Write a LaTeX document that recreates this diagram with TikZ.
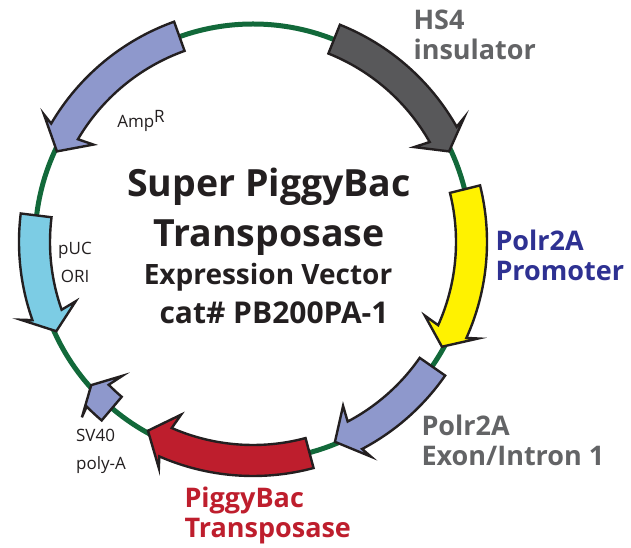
\documentclass[tikz,border=0pt]{standalone}
\usepackage{fontspec}
\setmainfont{Open Sans}
\definecolor{ringgreen}{HTML}{12693A}
\definecolor{outline}{HTML}{231F20}
\definecolor{insulatorgray}{HTML}{58585A}
\definecolor{promoteryellow}{HTML}{FFF200}
\definecolor{periwinkle}{HTML}{8E98CC}
\definecolor{orisky}{HTML}{7CCCE4}
\definecolor{transred}{HTML}{BE1E2D}
\definecolor{labelgray}{HTML}{636466}
\definecolor{labelblue}{HTML}{2E3192}
\tikzset{
    every node/.style={align=center,},
    feature/.style={draw=outline,line width=2.4pt,miter limit=12,},
    titleline/.style={anchor=base,text=outline,font=\fontsize{37.5}{40}\selectfont\bfseries,},
    subtitleline/.style={anchor=base,text=outline,font=\fontsize{28}{30}\selectfont\bfseries,},
    biglabel/.style={align=left,anchor=west,font=\fontsize{27}{30}\selectfont\bfseries,},
    smalllabel/.style={text=outline,font=\fontsize{17}{28}\selectfont,},
}
% colour, tail angle, barb angle, tip angle
\newcommand{\featurearrow}[4]{
    \pgfmathsetmacro{\neckangle}{#3+sign(#4-#3)}
    \draw[feature,fill=#1] (#2:234) arc[start angle=#2,end angle=\neckangle,radius=234]
        -- (#3:245) -- (#4:216) -- (#3:187) -- (\neckangle:203)
        arc[start angle=\neckangle,end angle=#2,radius=203] -- cycle;
}

\begin{document}
\begin{tikzpicture}[x=1pt,y=1pt]
    \useasboundingbox (0,0) rectangle (631,548);
    \begin{scope}[shift={(253,306)}]
        \draw[ringgreen,line width=5pt] (0,0) circle[radius=218];

        \featurearrow{insulatorgray}{68.2}{30.5}{24.8}
        \featurearrow{promoteryellow}{14}{-23.2}{-29}
        \featurearrow{periwinkle}{-34.8}{-61.2}{-67.7}
        \featurearrow{transred}{-75}{-112.6}{-119.1}
        \featurearrow{periwinkle}{-130.3}{-134.3}{-138.5}
        \featurearrow{orisky}{173}{198.5}{204.4}
        \featurearrow{periwinkle}{109.7}{148.6}{155.2}
    \end{scope}

    \node[titleline] (super) at (269,351) {Super PiggyBac};
    \node[titleline] (transposase) at (269,301) {Transposase};
    \node[subtitleline] (expression) at (268,263) {Expression Vector};
    \node[subtitleline,font=\fontsize{30}{32}\selectfont\bfseries] (catalog) at (274,224) {cat\# PB200PA-1};

    \node[biglabel,text=labelgray] (hs4) at (410,513) {HS4\\insulator};
    \node[biglabel,text=labelblue] (promoter) at (492,293) {Polr2A\\Promoter};
    \node[biglabel,text=labelgray] (exon) at (418,108) {Polr2A\\Exon/Intron 1};
    \node[biglabel,text=transred] (piggybac) at (181,33) {PiggyBac\\Transposase};

    \node[smalllabel] (amp) at (141,427) {Amp\raisebox{5pt}{R}};
    \node[smalllabel] (puc) at (75,286) {pUC\\ORI};
    \node[smalllabel,align=left] (sv40) at (101,97) {SV40\\poly-A};
\end{tikzpicture}
\end{document}
